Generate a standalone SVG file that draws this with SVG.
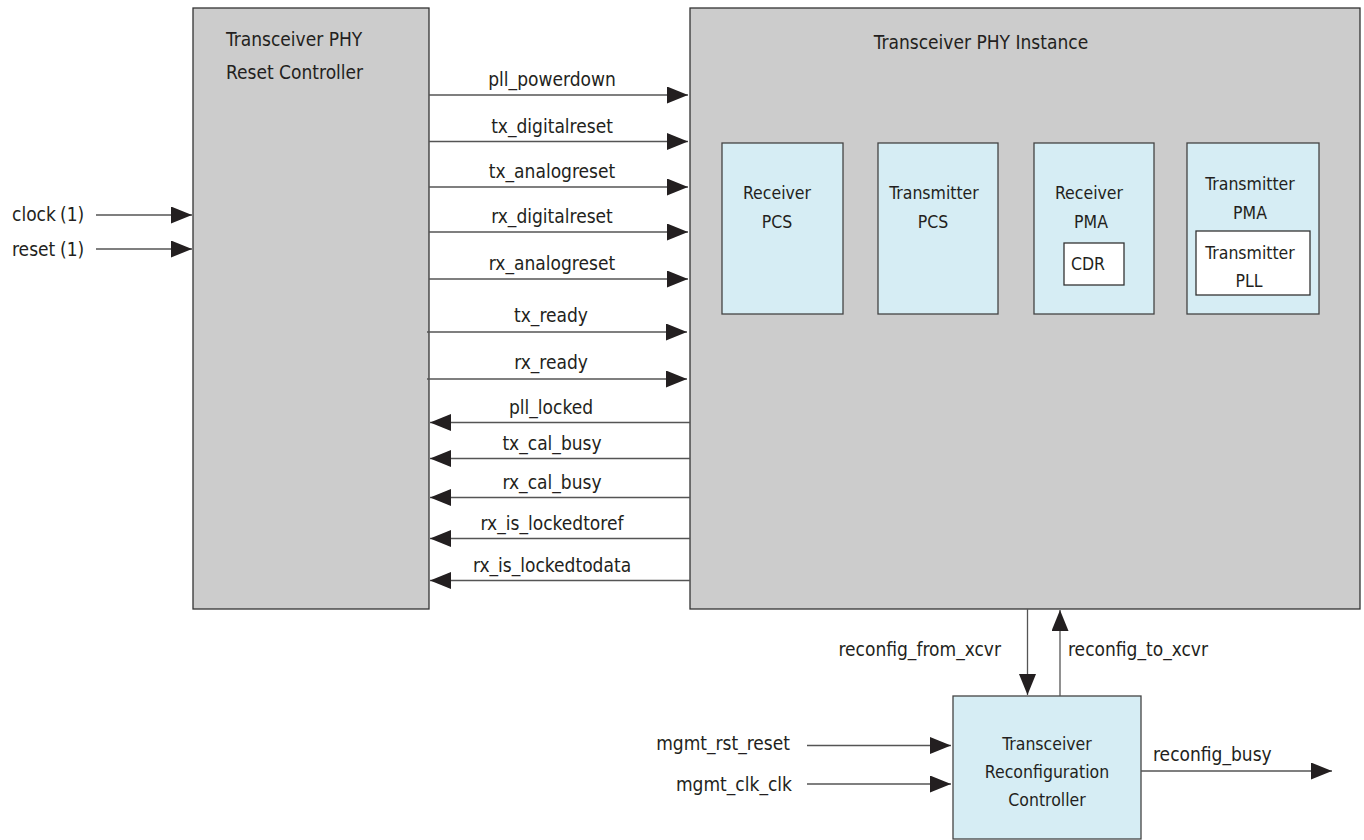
<svg xmlns="http://www.w3.org/2000/svg" width="1364" height="840" viewBox="0 0 1364 840">
<style>
text{font-family:"DejaVu Sans Condensed","Liberation Sans",sans-serif;fill:#231f20}
.lbl{font-size:19px}
.blk{font-size:17.5px}
.ttl{font-size:19px}
.gray{fill:#cccccc;stroke:#333333;stroke-width:1.3}
.blue{fill:#d6edf4;stroke:#444444;stroke-width:1.3}
.white{fill:#ffffff;stroke:#333333;stroke-width:1.3}
.ln{stroke:#555555;stroke-width:1.3;fill:none;marker-end:url(#ah)}
</style>
<defs>
<marker id="ah" viewBox="0 0 21 17" refX="21" refY="8.5" markerWidth="21" markerHeight="17" orient="auto" markerUnits="userSpaceOnUse">
<path d="M0,0 L21,8.5 L0,17 Z" fill="#231f20"/>
</marker>
</defs>
<rect width="1364" height="840" fill="#ffffff"/>

<g id="reset-controller">
<rect class="gray" x="193" y="8" width="236" height="601"/>
<text class="ttl" x="226" y="45.5">Transceiver PHY</text>
<text class="ttl" x="226" y="79">Reset Controller</text>
</g>

<g id="phy-instance">
<rect class="gray" x="690" y="8" width="670" height="601"/>
<text class="ttl" x="981" y="49" text-anchor="middle">Transceiver PHY Instance</text>
</g>

<g id="receiver-pcs">
<rect class="blue" x="722" y="143" width="121" height="171"/>
<text class="blk" x="777" y="199" text-anchor="middle">Receiver</text>
<text class="blk" x="777" y="228" text-anchor="middle">PCS</text>
</g>

<g id="transmitter-pcs">
<rect class="blue" x="878" y="143" width="120" height="171"/>
<text class="blk" x="934" y="199" text-anchor="middle">Transmitter</text>
<text class="blk" x="933" y="228" text-anchor="middle">PCS</text>
</g>

<g id="receiver-pma">
<rect class="blue" x="1034" y="143" width="120" height="171"/>
<text class="blk" x="1089" y="198.5" text-anchor="middle">Receiver</text>
<text class="blk" x="1091" y="228" text-anchor="middle">PMA</text>
<g id="cdr">
<rect class="white" x="1064" y="243" width="60" height="42"/>
<text class="blk" x="1088" y="270" text-anchor="middle">CDR</text>
</g>
</g>

<g id="transmitter-pma">
<rect class="blue" x="1187" y="143" width="132" height="171"/>
<text class="blk" x="1250" y="190" text-anchor="middle">Transmitter</text>
<text class="blk" x="1250" y="218.5" text-anchor="middle">PMA</text>
<g id="transmitter-pll">
<rect class="white" x="1196" y="231" width="114" height="64"/>
<text class="blk" x="1250" y="258.5" text-anchor="middle">Transmitter</text>
<text class="blk" x="1249" y="287" text-anchor="middle">PLL</text>
</g>
</g>

<g id="reconfig-controller">
<rect class="blue" x="953" y="696" width="188" height="143"/>
<text class="blk" x="1047" y="750" text-anchor="middle">Transceiver</text>
<text class="blk" x="1047" y="778" text-anchor="middle">Reconfiguration</text>
<text class="blk" x="1047" y="806" text-anchor="middle">Controller</text>
</g>

<g id="connectors">
<line class="ln" x1="96" y1="215" x2="192" y2="215"/>
<line class="ln" x1="96" y1="249" x2="192" y2="249"/>
<line class="ln" x1="429" y1="95" x2="688" y2="95"/>
<line class="ln" x1="429" y1="141.5" x2="688" y2="141.5"/>
<line class="ln" x1="429" y1="187" x2="688" y2="187"/>
<line class="ln" x1="429" y1="232" x2="688" y2="232"/>
<line class="ln" x1="429" y1="279" x2="688" y2="279"/>
<line class="ln" x1="427" y1="332" x2="687" y2="332"/>
<line class="ln" x1="427" y1="379" x2="687" y2="379"/>
<line class="ln" x1="690" y1="422.5" x2="430" y2="422.5"/>
<line class="ln" x1="690" y1="458.5" x2="430" y2="458.5"/>
<line class="ln" x1="690" y1="497.5" x2="430" y2="497.5"/>
<line class="ln" x1="690" y1="538.5" x2="430" y2="538.5"/>
<line class="ln" x1="690" y1="580.5" x2="430" y2="580.5"/>
<line class="ln" x1="1027.5" y1="609" x2="1027.5" y2="695"/>
<line class="ln" x1="1060" y1="696" x2="1060" y2="610"/>
<line class="ln" x1="807" y1="745.5" x2="951" y2="745.5"/>
<line class="ln" x1="807" y1="784" x2="951" y2="784"/>
<line class="ln" x1="1141" y1="771" x2="1332" y2="771"/>

<text class="lbl" x="12" y="221">clock <tspan x="60">(1)</tspan></text>
<text class="lbl" x="12" y="256">reset <tspan x="60">(1)</tspan></text>
<text class="lbl" x="552" y="86" text-anchor="middle">pll_powerdown</text>
<text class="lbl" x="552" y="132.5" text-anchor="middle">tx_digitalreset</text>
<text class="lbl" x="552" y="178" text-anchor="middle">tx_analogreset</text>
<text class="lbl" x="552" y="223" text-anchor="middle">rx_digitalreset</text>
<text class="lbl" x="552" y="269.5" text-anchor="middle">rx_analogreset</text>
<text class="lbl" x="551" y="322" text-anchor="middle">tx_ready</text>
<text class="lbl" x="551" y="369" text-anchor="middle">rx_ready</text>
<text class="lbl" x="551" y="414" text-anchor="middle">pll_locked</text>
<text class="lbl" x="552" y="450" text-anchor="middle">tx_cal_busy</text>
<text class="lbl" x="552" y="489" text-anchor="middle">rx_cal_busy</text>
<text class="lbl" x="552" y="530" text-anchor="middle">rx_is_lockedtoref</text>
<text class="lbl" x="552" y="572" text-anchor="middle">rx_is_lockedtodata</text>
<text class="lbl" x="1001" y="656" text-anchor="end">reconfig_from_xcvr</text>
<text class="lbl" x="1068" y="656">reconfig_to_xcvr</text>
<text class="lbl" x="790" y="750" text-anchor="end">mgmt_rst_reset</text>
<text class="lbl" x="792" y="791" text-anchor="end">mgmt_clk_clk</text>
<text class="lbl" x="1153" y="761">reconfig_busy</text>
</g>
</svg>
